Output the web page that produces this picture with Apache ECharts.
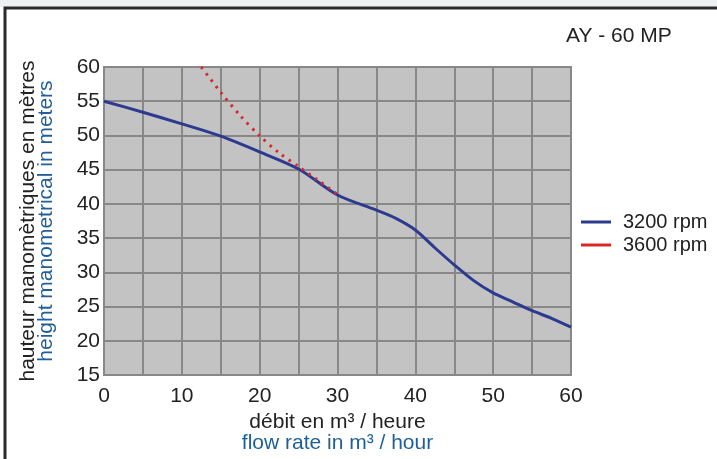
<!DOCTYPE html>
<html>
<head>
<meta charset="utf-8">
<script src="https://cdn.jsdelivr.net/npm/echarts@6/dist/echarts.min.js"></script>
<style>
html,body{margin:0;padding:0;background:#ffffff;}
#c{width:717px;height:459px;}
</style>
</head>
<body>
<div id="c"></div>
<script>
const flow3200 = [0,5,10,15,20,25,30,35,37.5,40,42.5,45,47.5,50,52.5,55,57.5,60];
const head3200 = [55,53.4,51.7,49.9,47.6,45.1,41.3,39.1,37.9,36.2,33.6,31.1,28.8,27.0,25.7,24.4,23.3,22.0];
const flow3600 = [12.5,15,17.5,20,22.5,25,27.5,30];
const head3600 = [60,56.3,52.9,49.95,47.45,45.45,43.45,41.4];
const seriesNames = ['3200 rpm','3600 rpm'];
const titleText = 'AY - 60 MP';
const xNameFr = 'débit en m³ / heure';
const xNameEn = 'flow rate in m³ / hour';
const yNameFr = 'hauteur manomètriques en mètres';
const yNameEn = 'height manometrical in meters';

const FONT = 'Liberation Sans, Arial, sans-serif';
const chart = echarts.init(document.getElementById('c'));
chart.setOption({
  animation: false,
  textStyle: {fontFamily: FONT},
  graphic: [
    {type:'rect', shape:{x:0,y:0,width:717,height:7}, style:{fill:'#eff0f2'}, silent:true, z:-10},
    {type:'rect', shape:{x:5,y:8,width:800,height:600}, style:{fill:'none', stroke:'#2a2a2a', lineWidth:3}, silent:true, z:-5}
  ],
  title: {
    text: titleText, left: 561, top: 21,
    textStyle: {fontFamily: FONT, fontSize: 21, fontWeight: 'normal', color: '#222'}
  },
  legend: {
    orient: 'vertical', left: 576, top: 207,
    icon: 'rect', itemWidth: 30, itemHeight: 3, itemGap: 3,
    textStyle: {fontFamily: FONT, fontSize: 20, color: '#222', padding: [0,0,0,7], lineHeight: 20},
    data: seriesNames
  },
  grid: {
    left: 104, right: 146, top: 67, bottom: 82,
    show: true, backgroundColor: '#c3c3c3', borderColor: '#888', borderWidth: 2
  },
  xAxis: {
    type: 'value', min: 0, max: 60, interval: 5,
    axisLine: {show: true, lineStyle: {color: '#888', width: 2}},
    axisTick: {show: false},
    splitLine: {show: true, lineStyle: {color: '#888', width: 2}},
    axisLabel: {fontFamily: FONT, fontSize: 21, color: '#222', margin: 11,
      formatter: v => (v % 10 === 0 ? String(v) : '')},
    name: '{a|' + xNameFr + '}\n{b|' + xNameEn + '}',
    nameLocation: 'middle', nameGap: 31,
    nameTextStyle: {
      rich: {
        a: {fontFamily: FONT, fontSize: 21, color: '#222', lineHeight: 21, align: 'center'},
        b: {fontFamily: FONT, fontSize: 21, color: '#1f5f99', lineHeight: 21, align: 'center'}
      }
    }
  },
  yAxis: {
    type: 'value', min: 15, max: 60, interval: 5,
    axisLine: {show: true, lineStyle: {color: '#888', width: 2}},
    axisTick: {show: false},
    splitLine: {show: true, lineStyle: {color: '#888', width: 2}},
    axisLabel: {fontFamily: FONT, fontSize: 21, color: '#222', margin: 4},
    name: '{a|' + yNameFr + '}\n{b|' + yNameEn + '}',
    nameLocation: 'middle', nameGap: 49,
    nameTextStyle: {
      rich: {
        a: {fontFamily: FONT, fontSize: 21, color: '#222', lineHeight: 18, align: 'center'},
        b: {fontFamily: FONT, fontSize: 21, color: '#1f5f99', lineHeight: 18, align: 'center'}
      }
    }
  },
  series: [
    {
      name: seriesNames[0], type: 'line', smooth: 0.3, showSymbol: false,
      data: flow3200.map((x, i) => [x, head3200[i]]),
      lineStyle: {color: '#2c3a8f', width: 3}, itemStyle: {color: '#2c3a8f'}, z: 3
    },
    {
      name: seriesNames[1], type: 'line', smooth: 0.3, showSymbol: false,
      data: flow3600.map((x, i) => [x, head3600[i]]),
      lineStyle: {color: '#d8282c', width: 3, type: [2.5, 5.5]}, itemStyle: {color: '#d8282c'}, z: 4
    }
  ]
});
</script>
</body>
</html>
